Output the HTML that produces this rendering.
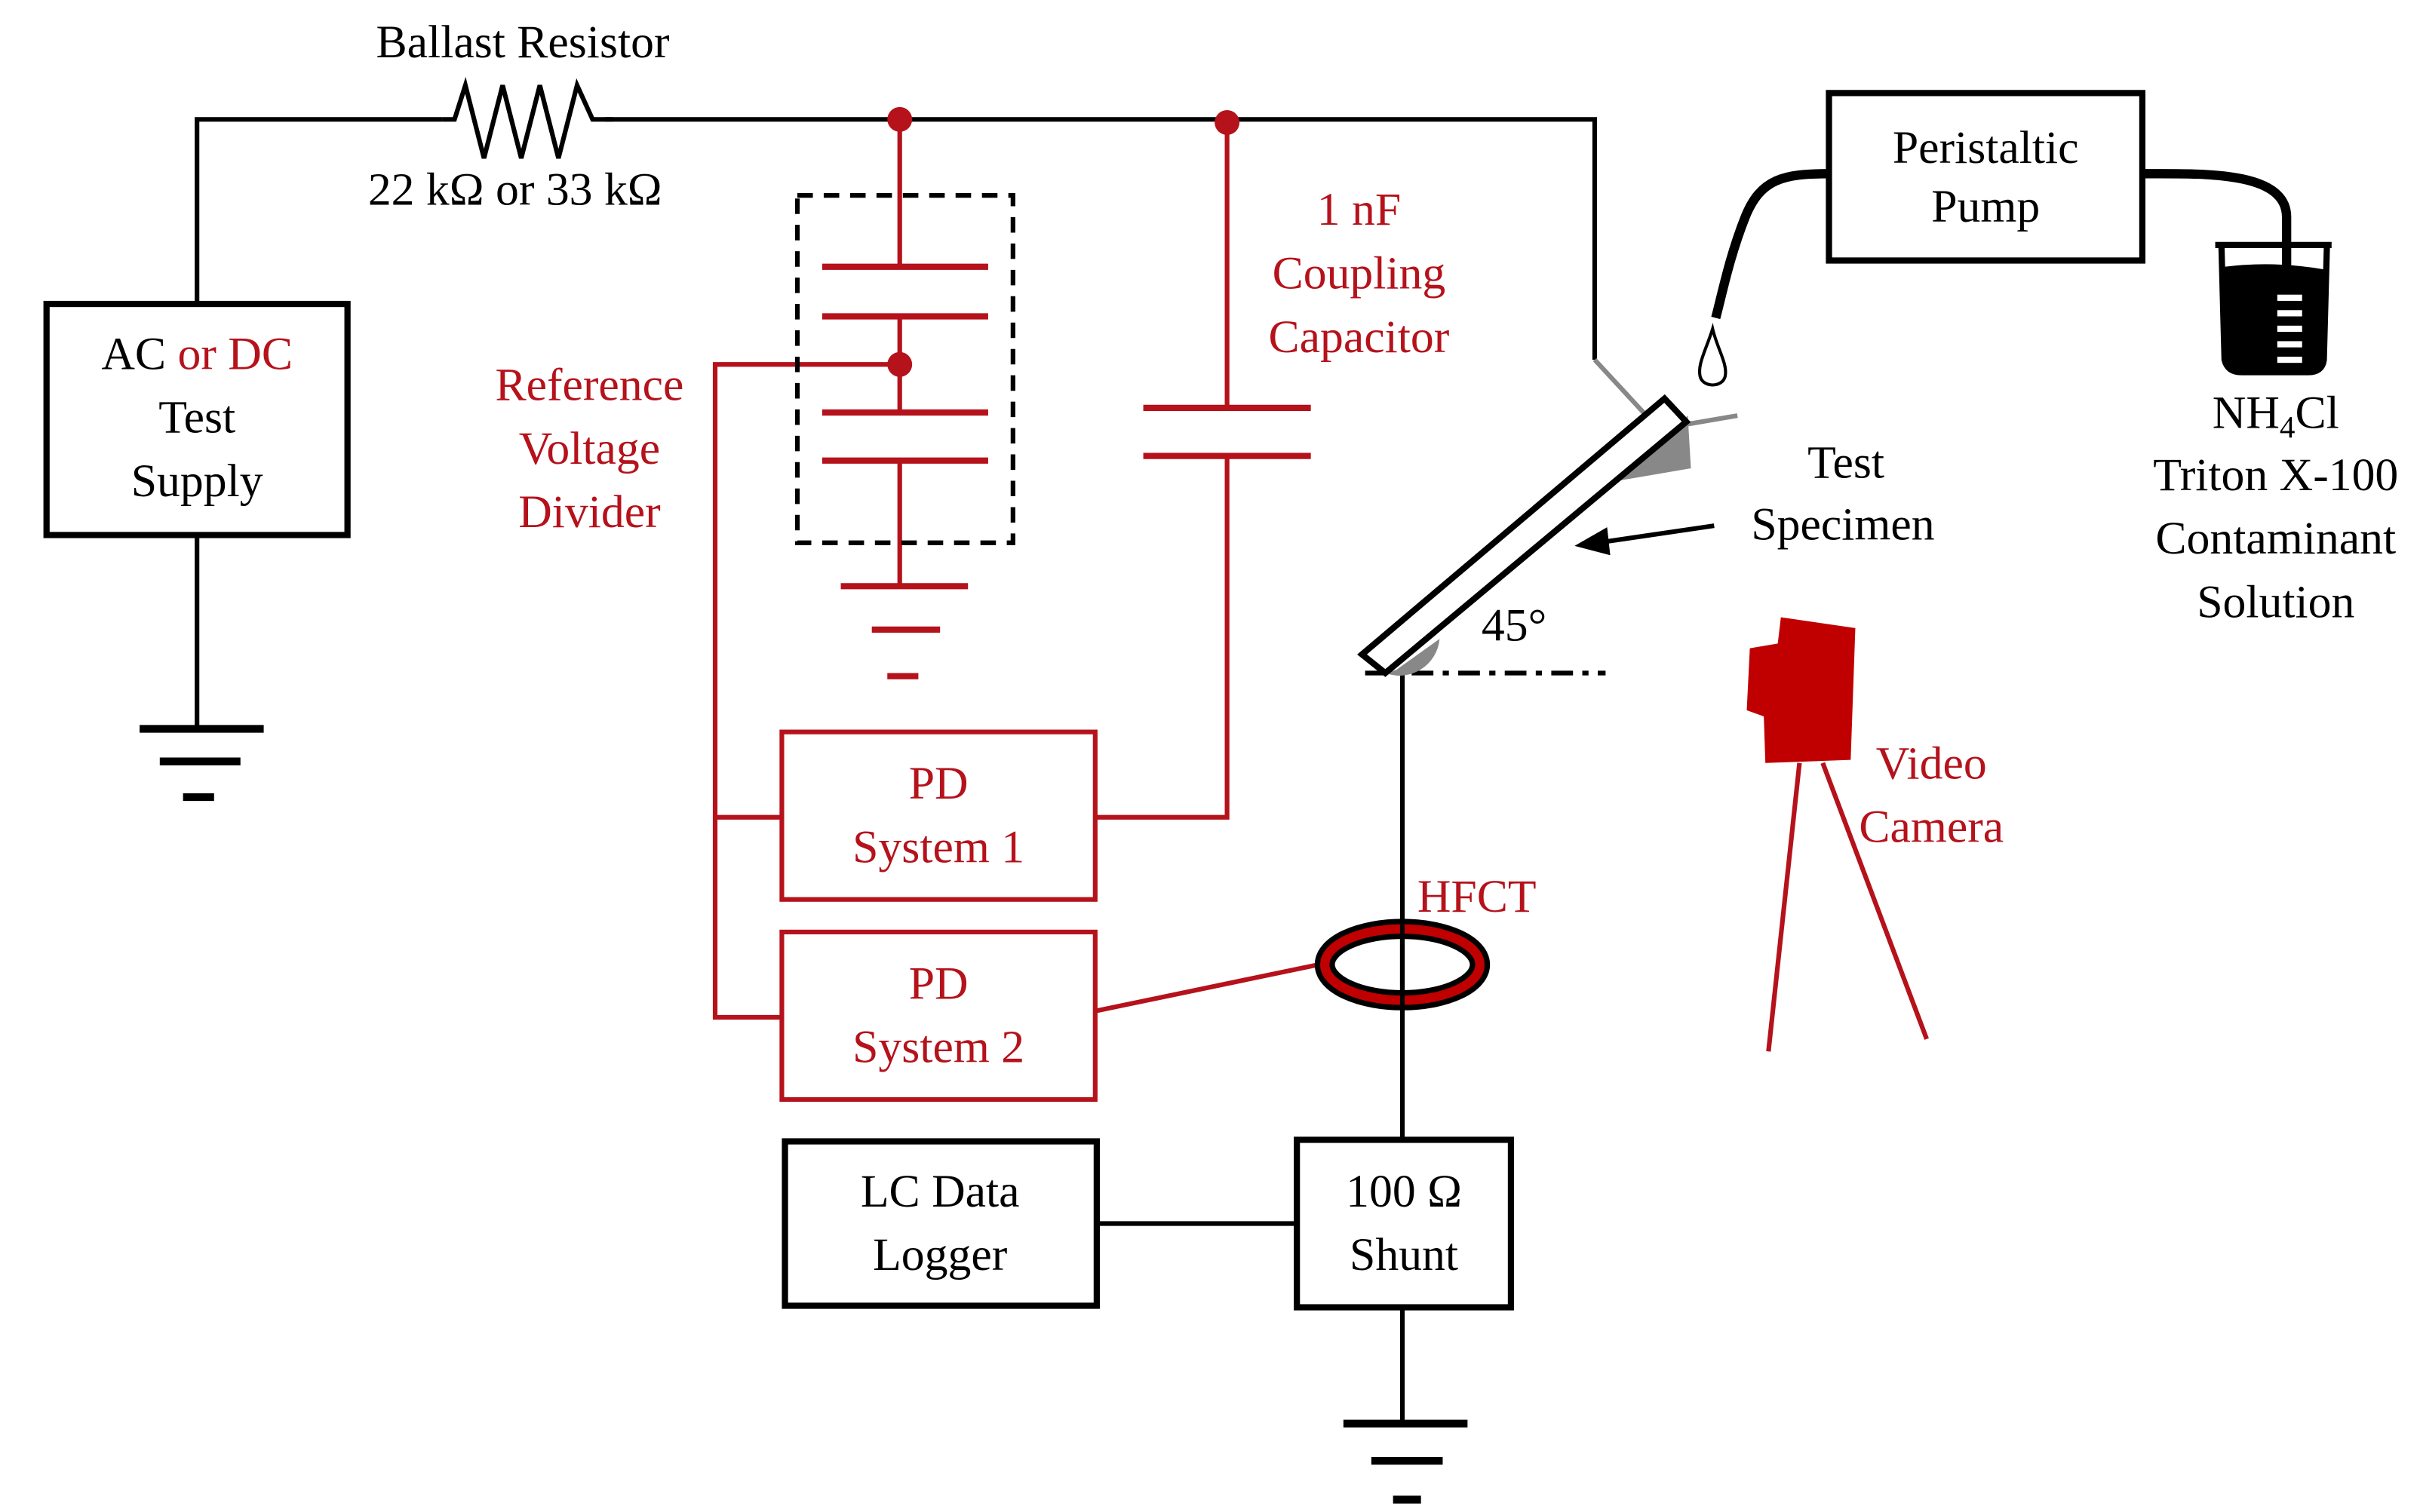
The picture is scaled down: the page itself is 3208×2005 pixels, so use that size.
<!DOCTYPE html>
<html><head><meta charset="utf-8"><style>html,body{margin:0;padding:0;background:#fff}svg{display:block}</style></head>
<body>
<svg width="3208" height="2005" viewBox="0 0 1560 975" xmlns="http://www.w3.org/2000/svg" font-family="Liberation Serif, serif" font-size="30" text-anchor="middle">
<rect width="1560" height="975" fill="#fff"/>
<g fill="none" stroke="#000" stroke-width="3">
<path d="M127 196V77H285M390 77H1028V232"/>
<path d="M285 77L293 77L300 55L312 102L324 55L336 102L348 55L360 102L372 55L382 77L395 77" stroke-width="3"/>
<rect x="30" y="196" width="194" height="149" stroke-width="4"/>
<path d="M127 345V470"/>
<path d="M90 470H170M103 491H155M118 514H138" stroke-width="5"/>
<path d="M904 432V735M904 843V918"/>
<path d="M866 918H946M884 942H930M898 967H916" stroke-width="5"/>
<rect x="836" y="735" width="138" height="108" stroke-width="4"/>
<rect x="506" y="736" width="201" height="106" stroke-width="4"/>
<path d="M707 789H836"/>
<rect x="1179" y="60" width="202" height="108" stroke-width="4"/>
<path d="M1179 112C1150 112 1135 115 1125 140C1115 165 1110 190 1106 205" stroke-width="6"/>
<path d="M1381 112C1420 112 1474 110 1474 140V185" stroke-width="6"/>
<path d="M880 434H1035" stroke-dasharray="14,6,4,6"/>
<path d="M1105 339L1030 350"/>
</g>
<path d="M1015 352L1036 340L1038 358Z" fill="#000"/>
<path d="M1104 212C1100 225 1094 235 1096 243C1098 250 1110 250 1112 243C1114 235 1107 225 1104 212Z" fill="#fff" stroke="#000" stroke-width="2"/>
<path d="M1428 158H1503M1432 158L1434 232Q1436 240 1445 240H1488Q1497 240 1498 232L1500 158" fill="none" stroke="#000" stroke-width="4"/>
<path d="M1434 172Q1466 168 1500 174L1498 232Q1497 240 1488 240H1445Q1436 240 1434 232Z" fill="#000"/>
<g fill="#fff"><rect x="1468" y="190" width="16" height="4"/><rect x="1468" y="200" width="16" height="4"/><rect x="1468" y="210" width="16" height="4"/><rect x="1468" y="220" width="16" height="4"/><rect x="1468" y="230" width="16" height="4"/></g>
<path d="M1028 232L1065 272M1085 274L1120 268" stroke="#888" stroke-width="3" fill="none"/>
<path d="M1043 310L1090 302L1088 268Z" fill="#888"/>
<path d="M893 434A26 26 0 0 0 928 412L900 432Z" fill="#888"/>
<polygon points="878,422 893,434 1087,272 1073,257" fill="#fff" stroke="#000" stroke-width="4"/>
<g stroke="#b5121b" fill="none" stroke-width="3">
<path d="M580 77V172M580 204V266M580 297V378"/>
<path d="M530 172H637M530 204H637M530 266H637M530 297H637" stroke-width="4"/>
<path d="M542 378H624M562 406H606M572 436H592" stroke-width="4"/>
<path d="M580 235H461V656H504M461 527H504"/>
<path d="M791 79V263M791 294V527H706"/>
<path d="M737 263H845M737 294H845" stroke-width="4"/>
<rect x="504" y="472" width="202" height="108"/>
<rect x="504" y="601" width="202" height="108"/>
<path d="M706 652L850 622"/>
<path d="M1160 492L1140 678M1175 492L1242 670"/>
</g>
<rect x="514" y="126" width="139" height="224" fill="none" stroke="#000" stroke-width="3" stroke-dasharray="10,7"/>
<circle cx="580" cy="77" r="8" fill="#b5121b"/><circle cx="791" cy="79" r="8" fill="#b5121b"/><circle cx="580" cy="235" r="8" fill="#b5121b"/>
<ellipse cx="904" cy="622" rx="50" ry="23" fill="none" stroke="#000" stroke-width="13"/>
<ellipse cx="904" cy="622" rx="50" ry="23" fill="none" stroke="#c00000" stroke-width="6"/>
<path d="M904 596V648" stroke="#000" stroke-width="3"/>
<path d="M1148 398L1196 405L1193 490L1138 492L1137 462L1126 458L1128 418L1146 415Z" fill="#c00000"/>
<text x="337" y="37">Ballast Resistor</text>
<text x="332" y="132">22 kΩ or 33 kΩ</text>
<text x="127" y="238">AC <tspan fill="#b5121b">or DC</tspan></text>
<text x="127" y="279">Test</text>
<text x="127" y="320">Supply</text>
<g fill="#b5121b">
<text x="380" y="258">Reference</text><text x="380" y="299">Voltage</text><text x="380" y="340">Divider</text>
<text x="876" y="145">1 nF</text><text x="876" y="186">Coupling</text><text x="876" y="227">Capacitor</text>
<text x="605" y="515">PD</text><text x="605" y="556">System 1</text>
<text x="605" y="644">PD</text><text x="605" y="685">System 2</text>
<text x="952" y="588">HFCT</text>
<text x="1245" y="502">Video</text><text x="1245" y="543">Camera</text>
</g>
<text x="905" y="778">100 Ω</text><text x="905" y="819">Shunt</text>
<text x="606" y="778">LC Data</text><text x="606" y="819">Logger</text>
<text x="1280" y="105">Peristaltic</text><text x="1280" y="143">Pump</text>
<text x="976" y="413">45°</text>
<text x="1190" y="308">Test</text><text x="1188" y="348">Specimen</text>
<text x="1467" y="276">NH<tspan font-size="20" dy="6">4</tspan><tspan dy="-6">Cl</tspan></text>
<text x="1467" y="316">Triton X-100</text><text x="1467" y="357">Contaminant</text><text x="1467" y="398">Solution</text>
</svg>
</body></html>
